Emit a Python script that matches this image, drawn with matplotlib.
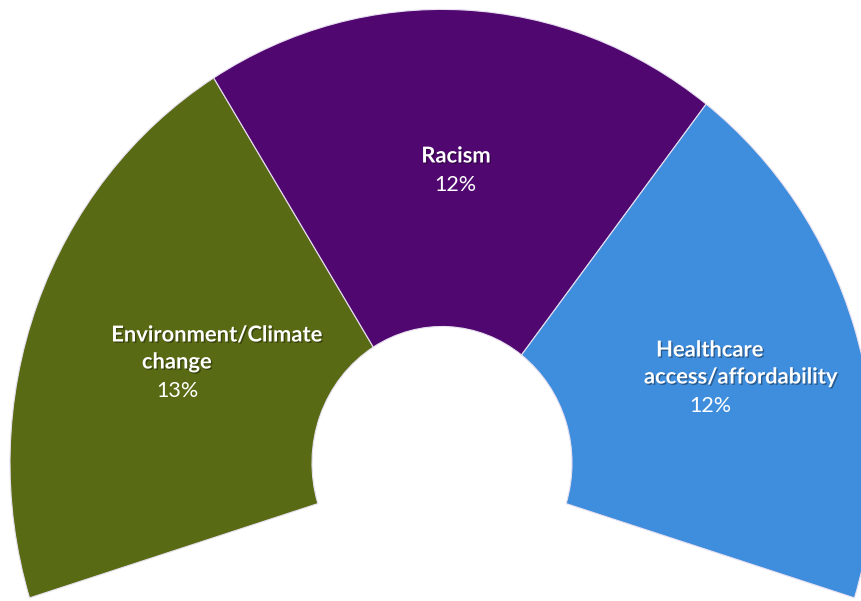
import matplotlib.pyplot as plt
import matplotlib.patheffects as pe
from matplotlib.patches import Wedge

# Share of respondents naming each issue
categories = ["Environment/Climate\nchange", "Racism", "Healthcare\naccess/affordability"]
shares = [13, 12, 12]
colors = ["#586a13", "#500870", "#3f8ddd"]

# Ring geometry: x in pixels, y in pixels / 1.05 (the ring is slightly taller than wide)
ystretch = 1.05
cx, cy = 442, (601 - 463) / ystretch
r_out, r_in = 432, 130
start = 197.3          # angle where the first wedge begins, drawn clockwise
deg_per_pct = 5.8

fig = plt.figure(figsize=(8.62, 6.01), dpi=100)
ax = fig.add_axes([0, 0, 1, 1])
ax.set_xlim(0, 862)
ax.set_ylim(0, 601 / ystretch)
ax.set_aspect("auto")
ax.axis("off")

theta = start
for val, col in zip(shares, colors):
    sweep = val * deg_per_pct
    w = Wedge((cx, cy), r_out, theta - sweep, theta, width=r_out - r_in,
              facecolor=col, edgecolor="#e8e0f0", linewidth=0.8)
    ax.add_patch(w)
    theta -= sweep

shadow = [pe.withSimplePatchShadow(offset=(1, -1), shadow_rgbFace="black", alpha=0.35)]

# label lines placed by pixel position (x, y from top)
label_lines = [
    [("Environment/Climate", 217, 335), ("change", 177, 362)],
    [("Racism", 456, 156)],
    [("Healthcare", 710, 350), ("access/affordability", 741, 377)],
]
pct_pos = [(177, 391), (455, 185), (710, 406)]

def to_data(x, y):
    return x, (601 - y) / ystretch

for lines, (px, py), val in zip(label_lines, pct_pos, shares):
    for txt, x, y in lines:
        ax.text(*to_data(x, y), txt, ha="center", va="center", color="white",
                fontsize=15.8, fontweight="bold", family="Lato", path_effects=shadow)
    ax.text(*to_data(px, py), f"{val}%", ha="center", va="center", color="white",
            fontsize=15.5, fontweight="normal", family="Lato")

fig.savefig("out.png", dpi=100)
